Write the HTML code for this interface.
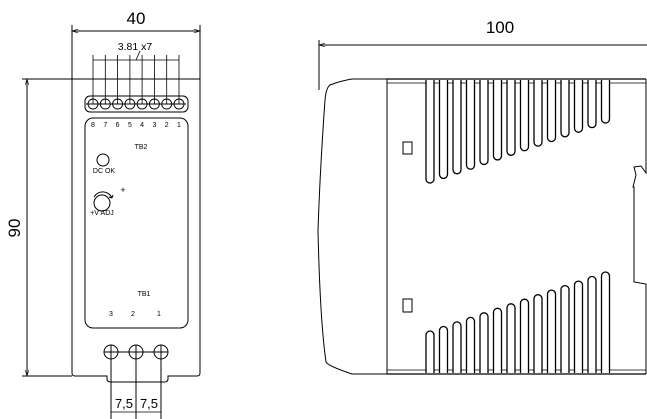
<!DOCTYPE html>
<html><head><meta charset="utf-8"><style>
html,body{margin:0;padding:0;background:#fff;}
svg{display:block;}
text{font-family:"Liberation Sans",sans-serif;fill:#000;}
</style></head><body>
<svg width="647" height="419" viewBox="0 0 647 419" xmlns="http://www.w3.org/2000/svg">
<defs>
<marker id="a" viewBox="0 0 10 10" refX="10" refY="5" markerWidth="8" markerHeight="6" orient="auto-start-reverse"><path d="M0,2 L10,5 L0,8" fill="none" stroke="#000" stroke-width="1"/></marker>
</defs>
<g fill="none" stroke="#000" stroke-width="1">
<!-- FRONT VIEW -->
<line x1="72" y1="25" x2="72" y2="79"/>
<line x1="200" y1="25" x2="200" y2="79"/>
<line x1="72" y1="31" x2="200" y2="31" marker-start="url(#a)" marker-end="url(#a)"/>
<!-- 90 dim -->
<line x1="22" y1="79" x2="72" y2="79"/>
<line x1="22" y1="376" x2="72" y2="376"/>
<line x1="27" y1="79" x2="27" y2="376" marker-start="url(#a)" marker-end="url(#a)"/>
<!-- body -->
<path d="M72,79 L72,373 Q72,376 75,376 L107,376 L107,379 Q107,382 111,382 L164,382 Q168,382 168,379 L168,376 L197,376 Q200,376 200,373 L200,79"/>
<line x1="72" y1="79" x2="200" y2="79"/>
<!-- 3.81 dims -->
<g stroke-width="0.8">
<line x1="93" y1="55" x2="93" y2="104"/><line x1="105.3" y1="55" x2="105.3" y2="104"/>
<line x1="117.6" y1="55" x2="117.6" y2="104"/><line x1="129.9" y1="55" x2="129.9" y2="104"/>
<line x1="142.1" y1="55" x2="142.1" y2="104"/><line x1="154.4" y1="55" x2="154.4" y2="104"/>
<line x1="166.7" y1="55" x2="166.7" y2="104"/><line x1="179" y1="55" x2="179" y2="104"/>
<line x1="93" y1="60" x2="179" y2="60"/>
<line x1="136" y1="60" x2="140" y2="51"/>
</g>
<rect x="85" y="96" width="103" height="16" rx="5"/>
<g stroke-width="0.9">
<circle cx="93" cy="104" r="5"/><circle cx="105.3" cy="104" r="5"/><circle cx="117.6" cy="104" r="5"/><circle cx="129.9" cy="104" r="5"/>
<circle cx="142.1" cy="104" r="5"/><circle cx="154.4" cy="104" r="5"/><circle cx="166.7" cy="104" r="5"/><circle cx="179" cy="104" r="5"/>
<line x1="86" y1="104" x2="186" y2="104"/>
</g>
<rect x="85" y="118" width="103" height="210" rx="8"/>
<circle cx="103" cy="160" r="6"/>
<circle cx="102" cy="203" r="8"/>
<path d="M94,197 A10,10 0 0 1 112,198" />
<path d="M112,198 l-3,-1 M112,198 l1,-3" />
<!-- bottom terminals -->
<circle cx="111" cy="352" r="7"/><circle cx="136" cy="352" r="7"/><circle cx="161" cy="352" r="7"/>
<line x1="104" y1="352" x2="168" y2="352"/>
<line x1="111" y1="345" x2="111" y2="419"/><line x1="136" y1="345" x2="136" y2="419"/><line x1="161" y1="345" x2="161" y2="419"/>
<line x1="111" y1="412" x2="136" y2="412" stroke-width="0.7"/><line x1="136" y1="412" x2="161" y2="412" stroke-width="0.7"/>

<!-- SIDE VIEW -->
<line x1="319" y1="40" x2="319" y2="90"/>
<line x1="319" y1="45" x2="647" y2="45" marker-start="url(#a)"/>
<path d="M387,79 L352,79 Q340,81 330,85 Q326,88 325,100 Q320,170 318,230 Q320,320 326,362 Q328,366 352,374 L387,374"/>
<line x1="387" y1="79" x2="387" y2="374"/>
<line x1="387" y1="79" x2="646" y2="79" stroke-width="1.3"/>
<line x1="387" y1="83" x2="646" y2="83" stroke-width="0.8"/>
<line x1="387" y1="374" x2="646" y2="374" stroke-width="1.3"/>
<line x1="387" y1="370" x2="646" y2="370" stroke-width="0.8"/>
<path d="M646,79 L646,173 L641,166 L634,167 L636,175 L633,187 L634,187 L634,282 L646,284 L646,374"/>
<rect x="403" y="142" width="9" height="12"/>
<rect x="403" y="299" width="9" height="13"/>
<g fill="#fff" stroke-width="1.3">
<path d="M426,80 V179 A4,4 0 0 0 434,179 V80"/>
<path d="M439.5,80 V174.4 A4,4 0 0 0 447.5,174.4 V80"/>
<path d="M453,80 V169.8 A4,4 0 0 0 461,169.8 V80"/>
<path d="M466.5,80 V165.2 A4,4 0 0 0 474.5,165.2 V80"/>
<path d="M480,80 V160.5 A4,4 0 0 0 488,160.5 V80"/>
<path d="M493.5,80 V155.9 A4,4 0 0 0 501.5,155.9 V80"/>
<path d="M507,80 V151.3 A4,4 0 0 0 515,151.3 V80"/>
<path d="M520.5,80 V146.7 A4,4 0 0 0 528.5,146.7 V80"/>
<path d="M534,80 V142.1 A4,4 0 0 0 542,142.1 V80"/>
<path d="M547.5,80 V137.5 A4,4 0 0 0 555.5,137.5 V80"/>
<path d="M561,80 V132.8 A4,4 0 0 0 569,132.8 V80"/>
<path d="M574.5,80 V128.2 A4,4 0 0 0 582.5,128.2 V80"/>
<path d="M588,80 V123.6 A4,4 0 0 0 596,123.6 V80"/>
<path d="M601.5,80 V119 A4,4 0 0 0 609.5,119 V80"/>

<path d="M426,373 V335 A4,4 0 0 1 434,335 V373"/>
<path d="M439.5,373 V330.5 A4,4 0 0 1 447.5,330.5 V373"/>
<path d="M453,373 V325.9 A4,4 0 0 1 461,325.9 V373"/>
<path d="M466.5,373 V321.4 A4,4 0 0 1 474.5,321.4 V373"/>
<path d="M480,373 V316.8 A4,4 0 0 1 488,316.8 V373"/>
<path d="M493.5,373 V312.3 A4,4 0 0 1 501.5,312.3 V373"/>
<path d="M507,373 V307.8 A4,4 0 0 1 515,307.8 V373"/>
<path d="M520.5,373 V303.2 A4,4 0 0 1 528.5,303.2 V373"/>
<path d="M534,373 V298.7 A4,4 0 0 1 542,298.7 V373"/>
<path d="M547.5,373 V294.1 A4,4 0 0 1 555.5,294.1 V373"/>
<path d="M561,373 V289.6 A4,4 0 0 1 569,289.6 V373"/>
<path d="M574.5,373 V285.1 A4,4 0 0 1 582.5,285.1 V373"/>
<path d="M588,373 V280.5 A4,4 0 0 1 596,280.5 V373"/>
<path d="M601.5,373 V276 A4,4 0 0 1 609.5,276 V373"/>
</g>
</g>
<!-- text -->
<text x="136" y="24" font-size="17" text-anchor="middle">40</text>
<text x="500" y="33" font-size="17" text-anchor="middle">100</text>
<text x="20" y="228" font-size="17" text-anchor="middle" transform="rotate(-90 20 228)" dy="0">90</text>
<text x="135" y="50" font-size="10.5" text-anchor="middle">3.81  x7</text>
<g font-size="7" text-anchor="middle">
<text x="93" y="127">8</text><text x="105.3" y="127">7</text><text x="117.6" y="127">6</text><text x="129.9" y="127">5</text>
<text x="142.1" y="127">4</text><text x="154.4" y="127">3</text><text x="166.7" y="127">2</text><text x="179" y="127">1</text>
<text x="141" y="149">TB2</text>
<text x="104" y="173">DC OK</text>
<text x="102" y="215">+V ADJ</text>
<text x="144" y="296">TB1</text>
<text x="111" y="316">3</text><text x="133" y="316">2</text><text x="159" y="316">1</text>
</g>
<text x="123" y="193" font-size="9" text-anchor="middle">+</text>
<text x="124" y="408" font-size="13" text-anchor="middle">7,5</text>
<text x="149" y="408" font-size="13" text-anchor="middle">7,5</text>
</svg>
</body></html>
